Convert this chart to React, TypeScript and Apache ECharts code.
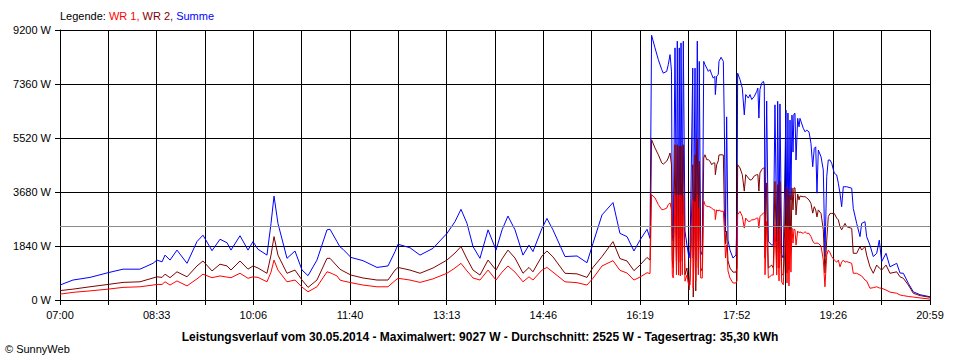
import React, { useEffect, useRef } from 'react';
import * as echarts from 'echarts';

// minutes since 07:00
const minutes = [
  0, 12.5, 28.9, 46.3, 60.8, 77.1, 89.7, 93.5, 98.4, 101.3, 106.1, 112.8, 122.5, 132.1, 137.9, 146.6, 154.3, 161.1, 164.9, 173.6,
  181.3, 186.1, 190.9, 199.6, 203.5, 206.4, 210.2, 218.9, 226.6, 233.4, 239.2, 247.8, 257.5, 260.4, 267.1, 270, 272.9, 280.6, 292.2, 305.7,
  316.3, 323.1, 326, 337.5, 347.2, 359.7, 373.2, 380.9, 386.7, 392.5, 398.3, 405, 412.8, 420.5, 426.3, 432, 438.8, 446.5, 452.3, 456.1,
  464.8, 469.6, 475.4, 487, 498.6, 508.2, 514, 522.7, 533.3, 540, 546.8, 553.5, 559.3, 566.1, 569,
  570.5, 573.8, 577, 580.3, 581.8, 585.1, 586.6, 588.3, 589.7, 590.5, 591.4, 593.1, 594.5, 595.3, 596.5, 597.2, 598.2, 598.9, 600.1, 601.1,
  602.7, 604.6, 606.6, 607.6, 610.2, 610.7, 612.4, 613.1, 614.6, 615.6, 616.5, 617.9, 619.4, 620.8, 622, 623.7, 625.2, 626.8, 628.5, 630,
  631.5, 632, 633.3, 634.8, 635.5, 637.5, 639.7, 640.6, 641.8, 642.9, 644.2, 646.1, 649, 651.9, 652.9, 653.5, 655.8, 658, 659.9, 661.3,
  663.8, 665.4, 667.1, 669.6, 671.9, 673, 674, 675, 676.7, 678.3, 679.2, 679.9, 681.5, 683.1, 686.3, 687.9, 689.5, 691.2, 692.1, 693.4,
  694.3, 696, 697.5, 700.1, 701.1, 702, 703, 704, 704.9, 705.9, 706.9, 707.8, 708.8, 709.8, 711.4, 712.7, 713.6, 716.8, 718.5, 720.1,
  722.3, 724.2, 725.9, 727.4, 728.8, 730, 731.3, 733.9, 736.1, 737.7, 739.4, 740.9, 742.6, 744.2, 746.7, 749, 750.6, 752.2, 753.8, 755.4,
  757, 758.6, 763.5, 765, 768.3, 771.5, 773.1, 776.3, 777.9, 781.1, 784.3, 787.6, 790.1, 792.4, 796.6, 800.4, 806.9, 810.1, 813.3, 818.1,
  822.9, 829.4, 839,
];

const summe = [
  510, 680, 770, 930, 1050, 1050, 1250, 1360, 1300, 1530, 1360, 1700, 1250, 1990, 2210, 1680, 2070, 1950, 1700, 2190,
  1700, 1990, 1730, 1530, 2610, 3540, 2610, 1420, 1670, 1020, 830, 1360, 2390, 2410, 1990, 1810, 1730, 1450, 1340, 1110,
  1160, 1650, 1900, 1780, 1530, 1760, 2270, 2670, 3090, 2610, 1820, 1420, 2390, 1700, 2390, 2860, 2390, 1530, 1870, 1650,
  2440, 2780, 2390, 1480, 1500, 1270, 1930, 2900, 3320, 2270, 2160, 1670, 2040, 2410, 2100,
  9020, 8590, 8190, 7850, 7730, 7790, 8020, 8360, 7800, 2230, 2010, 8590, 2230, 8820, 2450, 8590, 2110, 8760, 2900, 8820,
  2350, 1870, 1430, 1700, 7900, 1430, 7900, 1330, 8820, 2000, 8130, 1670, 1530, 8130, 8020, 7900, 7790, 7850, 7680, 7560,
  7620, 7000, 7630, 7680, 8130, 8270, 8130, 6130, 2320, 6240, 2040, 1700, 1430, 1530, 2860, 7730, 7510, 7220, 6310, 7000,
  6880, 7000, 6830, 6940, 7110, 7220, 6200, 7170, 7390, 7450, 7340, 2450, 6780, 2000, 1870, 1880, 6650, 2000, 6770, 1770,
  6680, 1540, 1430, 6470, 1870, 6370, 2040, 6130, 3410, 6300, 5040, 6340, 6360, 4770, 6190, 5900, 6190, 5850, 5730, 5790,
  5730, 5340, 4540, 5170, 5220, 3640, 5110, 4880, 4430, 1480, 4200, 4770, 4770, 4660, 4320, 4260, 3980, 3640, 3180, 3860,
  3860, 3860, 3810, 3120, 2610, 2160, 2610, 2670, 2160, 1870, 1480, 1590, 2040, 1310, 1590, 1130, 1250, 920, 910, 570,
  280, 180, 110,
];

const wr2 = [
  320, 370, 450, 530, 600, 620, 750, 790, 770, 880, 760, 960, 790, 1160, 1330, 990, 1220, 1160, 1020, 1330,
  1050, 1160, 1090, 910, 1530, 2160, 1530, 910, 1020, 680, 430, 680, 1420, 1420, 1160, 1050, 990, 850, 750, 680,
  680, 1020, 1110, 1020, 910, 1090, 1360, 1600, 1820, 1400, 1020, 850, 1360, 1020, 1400, 1700, 1430, 910, 1110, 960,
  1500, 1670, 1470, 910, 890, 770, 1110, 1480, 1990, 1410, 1330, 1000, 1190, 1450, 1360,
  5460, 5180, 4950, 4670, 4630, 4730, 4840, 5010, 4600, 1330, 1090, 5290, 1330, 5290, 1090, 5250, 1290, 5240, 1330, 5290,
  860, 1090, 340, 850, 4610, 100, 4950, 310, 5520, 1090, 4730, 980, 1090, 4840, 4950, 4780, 4780, 4730, 4610, 4670,
  4670, 4270, 4610, 4740, 4940, 4950, 4940, 3130, 1910, 2350, 1330, 1090, 950, 950, 1090, 4610, 4500, 4270, 3710, 4270,
  4160, 4090, 4100, 4230, 4270, 4270, 3710, 4330, 4440, 4500, 4500, 1430, 3990, 1090, 1190, 1090, 4040, 1090, 3930, 1090,
  4040, 860, 860, 3860, 920, 3750, 1020, 3580, 1700, 3820, 3070, 3820, 3820, 2900, 3610, 3410, 3540, 3520, 3520, 3480,
  3410, 3290, 2960, 3180, 3070, 2830, 3070, 2950, 2390, 920, 2040, 2840, 2950, 2950, 2950, 2790, 2730, 2500, 2390, 2500,
  2610, 2500, 2440, 1590, 1590, 1820, 1700, 1820, 1530, 1130, 910, 1190, 1090, 1020, 1190, 910, 960, 790, 740, 510,
  230, 150, 90,
];

const wr1 = [
  200, 260, 310, 370, 430, 450, 510, 530, 530, 620, 510, 650, 480, 720, 880, 760, 820, 780, 760, 910,
  740, 790, 770, 620, 950, 1360, 1020, 620, 680, 440, 280, 450, 960, 930, 820, 680, 650, 590, 510, 450,
  450, 660, 740, 680, 600, 720, 910, 1090, 1250, 990, 750, 680, 1020, 680, 950, 1160, 950, 620, 790, 680,
  1020, 1110, 950, 620, 590, 510, 740, 1160, 1340, 1010, 920, 680, 780, 930, 900,
  3590, 3480, 3250, 3080, 3080, 3130, 3250, 3310, 3070, 860, 750, 3590, 860, 3590, 850, 3580, 820, 3590, 860, 3530,
  640, 850, 480, 510, 3410, 410, 3360, 650, 3590, 860, 3130, 750, 750, 3370, 3250, 3190, 3190, 3170, 3130, 3080,
  3070, 2740, 3070, 3030, 3070, 3020, 3030, 2450, 1430, 1870, 990, 750, 580, 580, 650, 2910, 3020, 2850, 2450, 2790,
  2680, 2680, 2730, 2740, 2790, 2790, 2450, 2840, 2910, 2960, 2960, 860, 2680, 750, 850, 850, 2570, 850, 2450, 650,
  2450, 610, 520, 2560, 580, 2490, 480, 2390, 950, 2450, 1940, 2420, 2390, 1870, 2350, 2290, 2320, 2270, 2330, 2270,
  2270, 2160, 2010, 1930, 1930, 1940, 1930, 1840, 1360, 450, 1530, 1700, 1610, 1480, 1360, 1290, 1360, 1130, 1290, 1360,
  1290, 1310, 1250, 910, 910, 850, 820, 680, 650, 400, 420, 450, 410, 400, 340, 270, 230, 170, 150, 120,
  100, 70, 30,
];

const timeLabels = ['07:00', '08:33', '10:06', '11:40', '13:13', '14:46', '16:19', '17:52', '19:26', '20:59'];
const dayMinutes = 839;
const gridSteps = 18;
const yMax = 9200;
const yStep = 1840;
const average = 2525;

const legendText = 'Legende: ';
const seriesNames = ['WR 1', 'WR 2', 'Summe'];
const titleText = 'Leistungsverlauf vom 30.05.2014 - Maximalwert: 9027 W - Durchschnitt: 2525 W - Tagesertrag: 35,30 kWh';
const footerText = '\u00A9 SunnyWeb';

export default function App() {
  const ref = useRef<HTMLDivElement>(null);
  useEffect(() => {
    document.body.style.margin = '0';
    const chart = echarts.init(ref.current as HTMLDivElement, null, { renderer: 'svg' });
    const step = dayMinutes / gridSteps;
    const font = '"Liberation Sans", Arial, sans-serif';
    const mk = (vals: number[]) => minutes.map((m, i) => [m, vals[i]]);
    chart.setOption({
      animation: false,
      backgroundColor: '#ffffff',
      textStyle: { fontFamily: font },
      grid: { left: 60, right: 30, top: 30, bottom: 60 },
      xAxis: {
        type: 'value',
        min: 0,
        max: dayMinutes,
        interval: step,
        axisLine: { show: true, lineStyle: { color: '#000', width: 1 } },
        axisTick: { show: true, length: 5, lineStyle: { color: '#000' } },
        axisLabel: {
          color: '#000',
          fontSize: 11,
          fontFamily: font,
          margin: 9,
          showMinLabel: true,
          showMaxLabel: true,
          formatter: (v: number) => {
            const i = Math.round(v / step);
            return i % 2 === 0 ? timeLabels[i / 2] || '' : '';
          },
        },
        splitLine: { show: true, lineStyle: { color: '#000', width: 1 } },
      },
      yAxis: {
        type: 'value',
        min: 0,
        max: yMax,
        interval: yStep,
        axisLine: { show: true, lineStyle: { color: '#000', width: 1 } },
        axisTick: { show: true, length: 5, lineStyle: { color: '#000' } },
        axisLabel: { color: '#000', fontSize: 11, fontFamily: font, margin: 9, formatter: (v: number) => `${v} W` },
        splitLine: { show: true, lineStyle: { color: '#000', width: 1 } },
      },
      series: [
        {
          name: seriesNames[2],
          type: 'line',
          data: mk(summe),
          symbol: 'none',
          lineStyle: { color: '#0000ff', width: 1 },
          markLine: {
            silent: true,
            symbol: 'none',
            label: { show: false },
            lineStyle: { color: '#8c8c8c', type: 'solid', width: 1 },
            data: [{ yAxis: average }],
          },
        },
        { name: seriesNames[1], type: 'line', data: mk(wr2), symbol: 'none', lineStyle: { color: '#800000', width: 1 } },
        { name: seriesNames[0], type: 'line', data: mk(wr1), symbol: 'none', lineStyle: { color: '#ff0000', width: 1 } },
      ],
      graphic: [
        {
          type: 'text',
          left: 60,
          top: 10,
          style: {
            text: `{k|${legendText}}{a|${seriesNames[0]}, }{b|${seriesNames[1]}, }{c|${seriesNames[2]}}`,
            font: `11px ${font}`,
            rich: {
              k: { fill: '#000', fontSize: 11, fontFamily: font },
              a: { fill: '#ff0000', fontSize: 11, fontFamily: font },
              b: { fill: '#800000', fontSize: 11, fontFamily: font },
              c: { fill: '#0000ff', fontSize: 11, fontFamily: font },
            },
          },
        },
        {
          type: 'text',
          x: 480,
          y: 337,
          style: {
            text: titleText,
            fill: '#000',
            font: `bold 12px ${font}`,
            textAlign: 'center',
            textVerticalAlign: 'middle',
          },
        },
        {
          type: 'text',
          x: 5,
          y: 349,
          style: {
            text: footerText,
            fill: '#000',
            font: `11px ${font}`,
            textAlign: 'left',
            textVerticalAlign: 'middle',
          },
        },
      ],
    });
    return () => chart.dispose();
  }, []);
  return <div ref={ref} style={{ position: 'absolute', left: 0, top: 0, width: 960, height: 360 }} />;
}
